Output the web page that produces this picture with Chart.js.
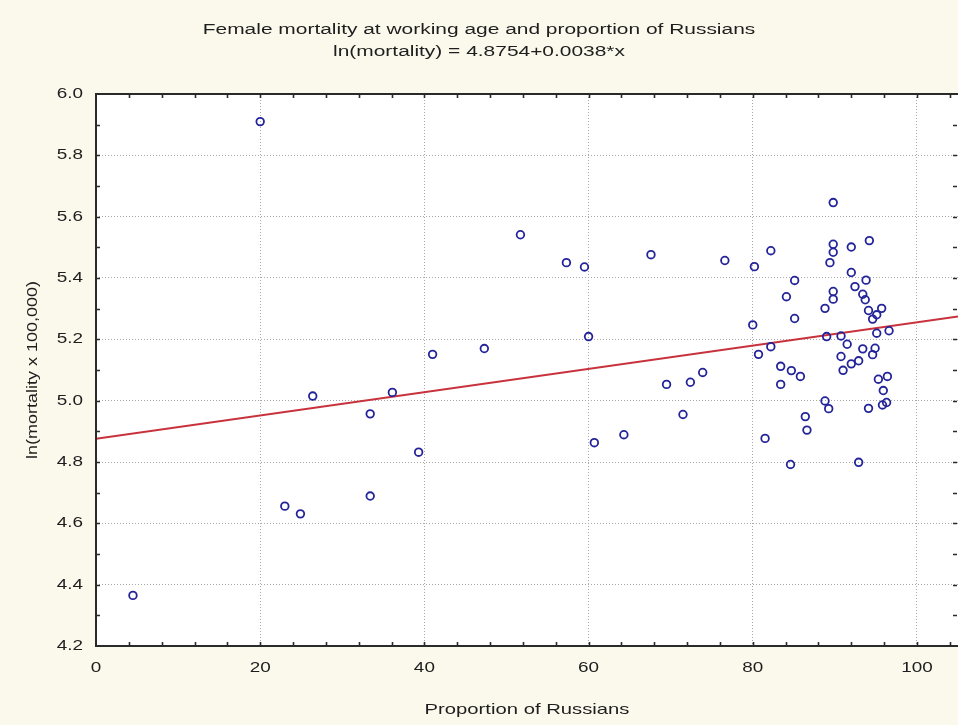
<!DOCTYPE html>
<html>
<head>
<meta charset="utf-8">
<script src="https://cdn.jsdelivr.net/npm/chart.js@4/dist/chart.umd.min.js"></script>
<style>
  html, body { margin: 0; padding: 0; background: #fbf8ec; }
  #wrap { width: 958px; height: 725px; }
</style>
</head>
<body>
<div id="wrap"><canvas id="c" width="958" height="725"></canvas></div>
<script>
// ---------- texts ----------
const TITLE = 'Female mortality at working age and proportion of Russians';
const SUBTITLE = 'ln(mortality) = 4.8754+0.0038*x';
const X_TITLE = 'Proportion of Russians';
const Y_TITLE = 'ln(mortality x 100,000)';

// ---------- axes ----------
const X_TICKS = [0, 20, 40, 60, 80, 100];
const Y_TICKS = [4.2, 4.4, 4.6, 4.8, 5.0, 5.2, 5.4, 5.6, 5.8, 6.0];
const X_MIN = 0, X_MAX = 105;
const Y_MIN = 4.2, Y_MAX = 6.0;
const X_MINOR_STEP = 4;
const Y_MINOR_STEP = 0.1;

// ---------- data ----------
const PROPORTION_RUSSIANS = [
  4.5, 20.0, 23.0, 24.9, 26.4, 33.4, 33.4, 36.1, 39.3, 41.0,
  47.3, 51.7, 57.3, 59.5, 60.0, 60.7, 64.3, 67.6, 69.5, 71.5,
  72.4, 73.9, 76.6, 80.0, 80.2, 80.7, 81.5, 82.2, 82.2, 83.4,
  83.4, 84.1, 84.6, 84.7, 85.1, 85.1, 85.8, 86.4, 86.6, 88.8,
  88.8, 89.0, 89.25, 89.4, 89.8, 89.8, 89.8, 89.8, 89.8, 90.75,
  90.75, 91.0, 91.5, 92.0, 92.0, 92.0, 92.45, 92.9, 92.9, 93.4,
  93.4, 93.7, 93.8, 94.1, 94.1, 94.2, 94.6, 94.6, 94.9, 95.1,
  95.1, 95.3, 95.7, 95.8, 95.9, 96.3, 96.4, 96.6
];
const LN_MORTALITY = [
  4.365, 5.910, 4.656, 4.631, 5.015, 4.957, 4.689, 5.027, 4.832, 5.151,
  5.170, 5.541, 5.450, 5.436, 5.209, 4.863, 4.889, 5.476, 5.053, 4.955,
  5.060, 5.092, 5.457, 5.247, 5.437, 5.151, 4.877, 5.489, 5.176, 5.112,
  5.053, 5.339, 4.792, 5.098, 5.392, 5.268, 5.079, 4.948, 4.904, 5.301,
  4.999, 5.209, 4.974, 5.450, 5.646, 5.510, 5.484, 5.356, 5.331, 5.211,
  5.144, 5.099, 5.184, 5.501, 5.418, 5.120, 5.372, 5.130, 4.799, 5.347,
  5.169, 5.329, 5.393, 5.294, 4.975, 5.522, 5.266, 5.150, 5.171, 5.280,
  5.220, 5.070, 5.301, 4.986, 5.033, 4.994, 5.079, 5.228
];
const FIT_INTERCEPT = 4.8754;
const FIT_SLOPE = 0.0038;

// ---------- styling ----------
const FONT = '"Liberation Sans", Arial, sans-serif';
const TEXT_COLOR = '#1e1e1e';
const TEXT_STRETCH = 1.35;
const TEXT_STRETCH_ROTATED = 1.2;

const canvas = document.getElementById('c');
const g = canvas.getContext('2d');
// widen text along its direction (reference text is stretched)
const origFillText = g.fillText;
g.fillText = function (t, x, y, mw) {
  const m = this.getTransform();
  const rotated = Math.abs(m.b) > 1e-6 || Math.abs(m.c) > 1e-6;
  const s = rotated ? TEXT_STRETCH_ROTATED : TEXT_STRETCH;
  this.save();
  this.translate(x, y);
  this.scale(s, 1);
  if (mw === undefined) origFillText.call(this, t, 0, 0);
  else origFillText.call(this, t, 0, 0, mw / s);
  this.restore();
};

const points = PROPORTION_RUSSIANS.map((x, i) => ({ x: x, y: LN_MORTALITY[i] }));
const fitLine = [X_MIN, X_MAX].map(x => ({ x: x, y: FIT_INTERCEPT + FIT_SLOPE * x }));

const framePlugin = {
  id: 'frame',
  afterLayout(chart) {
    // plot area runs to the right edge of the picture (cropped frame)
    const xs = chart.scales.x;
    chart.chartArea.right = chart.width;
    chart.chartArea.w = chart.chartArea.right - chart.chartArea.left;
    xs.right = chart.width;
    xs.width = xs.right - xs.left;
    xs.configure();
  },
  beforeDraw(chart) {
    const { ctx, chartArea: a } = chart;
    ctx.save();
    ctx.fillStyle = '#fbf8ec';
    ctx.fillRect(0, 0, chart.width, chart.height);
    ctx.fillStyle = '#ffffff';
    ctx.fillRect(a.left, a.top, a.right - a.left, a.bottom - a.top);
    ctx.restore();
  },
  afterDraw(chart) {
    const { ctx, chartArea: a, scales } = chart;
    const xs = scales.x, ys = scales.y;
    ctx.save();
    ctx.strokeStyle = '#2a2a2a';
    ctx.lineWidth = 2;
    ctx.beginPath();
    ctx.moveTo(a.right + 2, a.top);
    ctx.lineTo(a.left, a.top);
    ctx.lineTo(a.left, a.bottom);
    ctx.lineTo(a.right + 2, a.bottom);
    ctx.stroke();
    // inward ticks
    ctx.lineWidth = 1.6;
    const L = 4;
    ctx.beginPath();
    for (let v = X_MIN; v <= X_MAX + 1e-9; v += X_MINOR_STEP) {
      const px = Math.round(xs.getPixelForValue(v)) + 0.5;
      if (px <= a.left + 1 || px >= a.right - 1) continue;
      ctx.moveTo(px, a.bottom); ctx.lineTo(px, a.bottom - L);
      ctx.moveTo(px, a.top); ctx.lineTo(px, a.top + L);
    }
    for (let k = 0; Y_MIN + k * Y_MINOR_STEP <= Y_MAX + 1e-9; k++) {
      const v = Y_MIN + k * Y_MINOR_STEP;
      const py = Math.round(ys.getPixelForValue(v)) + 0.5;
      if (py <= a.top + 1 || py >= a.bottom - 1) continue;
      ctx.moveTo(a.left, py); ctx.lineTo(a.left + L, py);
      ctx.moveTo(a.right - 1, py); ctx.lineTo(a.right - 1 - L, py);
    }
    ctx.stroke();
    ctx.restore();
  }
};

new Chart(canvas, {
  type: 'scatter',
  data: {
    datasets: [
      {
        label: 'Regions',
        data: points,
        pointStyle: 'circle',
        pointRadius: 3.8,
        pointBorderWidth: 1.8,
        borderColor: '#24249a',
        backgroundColor: 'rgba(0,0,0,0)',
        order: 0
      },
      {
        type: 'line',
        label: 'Fit',
        data: fitLine,
        showLine: true,
        borderColor: '#c8323c',
        borderWidth: 2,
        pointRadius: 0,
        fill: false,
        order: 1
      }
    ]
  },
  options: {
    responsive: false,
    animation: false,
    devicePixelRatio: 1,
    events: [],
    layout: { padding: { top: 0, right: 0, bottom: 0, left: 0 } },
    plugins: {
      legend: { display: false },
      tooltip: { enabled: false },
      title: {
        display: true,
        text: TITLE,
        color: TEXT_COLOR,
        font: { family: FONT, size: 15.5, weight: 'normal', lineHeight: 1.2 },
        padding: { top: 20, bottom: 4 }
      },
      subtitle: {
        display: true,
        text: SUBTITLE,
        color: TEXT_COLOR,
        font: { family: FONT, size: 15.5, weight: 'normal', lineHeight: 1.2 },
        padding: { top: 0, bottom: 32.8 }
      }
    },
    scales: {
      x: {
        type: 'linear',
        position: 'bottom',
        min: X_MIN,
        max: X_MAX,
        afterBuildTicks: s => { s.ticks = X_TICKS.map(v => ({ value: v })); },
        afterFit: s => { s.height = 79; s.paddingLeft = 0; s.paddingRight = 0; },
        ticks: {
          color: TEXT_COLOR,
          font: { family: FONT, size: 14 },
          padding: 14,
          maxRotation: 0,
          autoSkip: false,
          callback: v => String(v)
        },
        grid: {
          color: c => (c.tick && c.tick.value === X_MIN) ? 'rgba(0,0,0,0)' : '#a8a8a8',
          lineWidth: 1,
          drawTicks: false
        },
        border: { display: false, dash: [1, 2] },
        title: {
          display: true,
          text: X_TITLE,
          color: TEXT_COLOR,
          font: { family: FONT, size: 15, lineHeight: 1.2 },
          padding: { top: 0, bottom: 6 }
        }
      },
      y: {
        type: 'linear',
        position: 'left',
        min: Y_MIN,
        max: Y_MAX,
        afterBuildTicks: s => { s.ticks = Y_TICKS.map(v => ({ value: v })); },
        afterFit: s => { s.width = 96; },
        ticks: {
          color: TEXT_COLOR,
          font: { family: FONT, size: 14 },
          padding: 13,
          callback: v => Number(v).toFixed(1)
        },
        grid: {
          color: c => (c.tick && (Math.abs(c.tick.value - Y_MIN) < 1e-9 || Math.abs(c.tick.value - Y_MAX) < 1e-9)) ? 'rgba(0,0,0,0)' : '#a8a8a8',
          lineWidth: 1,
          drawTicks: false
        },
        border: { display: false, dash: [1, 2] },
        title: {
          display: true,
          text: Y_TITLE,
          color: TEXT_COLOR,
          font: { family: FONT, size: 15, lineHeight: 1.2 },
          padding: { top: 24, bottom: 0 }
        }
      }
    }
  },
  plugins: [framePlugin]
});
</script>
</body>
</html>
